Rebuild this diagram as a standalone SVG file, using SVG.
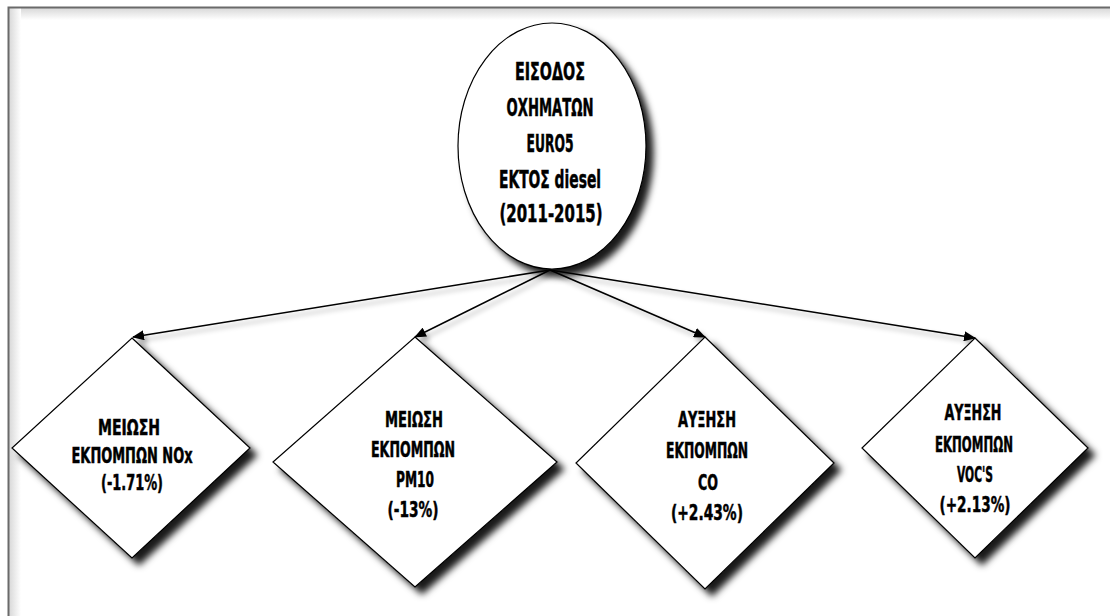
<svg xmlns="http://www.w3.org/2000/svg" width="1110" height="616" viewBox="0 0 1110 616">
<defs>
<filter id="sh" x="-20%" y="-20%" width="150%" height="150%">
<feDropShadow dx="7" dy="7" stdDeviation="3.5" flood-color="#000" flood-opacity="0.9"/>
</filter>
<filter id="lsh" x="-10%" y="-50%" width="120%" height="200%">
<feDropShadow dx="3" dy="4" stdDeviation="2.5" flood-color="#000" flood-opacity="0.35"/>
</filter>
<linearGradient id="gt" x1="0" y1="0" x2="0" y2="1">
<stop offset="0" stop-color="#d8d8d8"/><stop offset="1" stop-color="#fff"/>
</linearGradient>
<linearGradient id="gl" x1="0" y1="0" x2="1" y2="0">
<stop offset="0" stop-color="#d8d8d8"/><stop offset="1" stop-color="#fff"/>
</linearGradient>
<marker id="arr" viewBox="0 0 12 10" refX="11" refY="5" markerWidth="12" markerHeight="10" markerUnits="userSpaceOnUse" orient="auto">
<path d="M0,0 L12,5 L0,10 Z" fill="#000"/>
</marker>
<style>
.t{font-family:"DejaVu Sans Condensed","DejaVu Sans",sans-serif;font-stretch:condensed;font-weight:bold;fill:#000;stroke:#000;stroke-width:0.5;text-anchor:middle}
.s{font-size:21px}
.b{font-size:25px}
.shape{fill:#fff;stroke:#000;stroke-width:1.2}
.con{stroke:#000;stroke-width:1.6;fill:none}
</style>
</defs>
<rect x="0" y="0" width="1110" height="616" fill="#fff"/>
<g id="frame">
<rect x="9" y="8" width="1101" height="12" fill="url(#gt)"/>
<rect x="9" y="8" width="12" height="608" fill="url(#gl)"/>
<path d="M8.5,616 L8.5,7.5 L1110,7.5" fill="none" stroke="#6a6a6a" stroke-width="2"/>
</g>
<g id="connectors" filter="url(#lsh)">
<line class="con" x1="550" y1="270" x2="133" y2="337" marker-end="url(#arr)"/>
<line class="con" x1="550" y1="270" x2="415" y2="337" marker-end="url(#arr)"/>
<line class="con" x1="550" y1="270" x2="705" y2="337" marker-end="url(#arr)"/>
<line class="con" x1="550" y1="270" x2="975" y2="338" marker-end="url(#arr)"/>
</g>
<g id="n0">
<ellipse class="shape" cx="552" cy="146" rx="94" ry="123" filter="url(#sh)"/>
<text class="t b" x="550" y="80" textLength="70" lengthAdjust="spacingAndGlyphs">ΕΙΣΟΔΟΣ</text>
<text class="t b" x="550" y="116" textLength="87" lengthAdjust="spacingAndGlyphs">ΟΧΗΜΑΤΩΝ</text>
<text class="t b" x="550" y="152" textLength="47" lengthAdjust="spacingAndGlyphs">EURO5</text>
<text class="t b" x="550" y="188" textLength="102" lengthAdjust="spacingAndGlyphs">ΕΚΤΟΣ diesel</text>
<text class="t b" x="551" y="222" textLength="103" lengthAdjust="spacingAndGlyphs">(2011-2015)</text>
</g>
<g id="n1">
<polygon class="shape" points="132,338 250,448 132,558 12,448" filter="url(#sh)"/>
<text class="t s" x="129" y="435" textLength="62" lengthAdjust="spacingAndGlyphs">ΜΕΙΩΣΗ</text>
<text class="t s" x="132" y="463" textLength="121" lengthAdjust="spacingAndGlyphs">ΕΚΠΟΜΠΩΝ NOx</text>
<text class="t s" x="132" y="490" textLength="62" lengthAdjust="spacingAndGlyphs">(-1.71%)</text>
</g>
<g id="n2">
<polygon class="shape" points="415,337 557,462 415,587 273,462" filter="url(#sh)"/>
<text class="t s" x="414" y="427" textLength="58" lengthAdjust="spacingAndGlyphs">ΜΕΙΩΣΗ</text>
<text class="t s" x="413" y="457" textLength="84" lengthAdjust="spacingAndGlyphs">ΕΚΠΟΜΠΩΝ</text>
<text class="t s" x="415" y="487" textLength="38" lengthAdjust="spacingAndGlyphs">PM10</text>
<text class="t s" x="413" y="517" textLength="51" lengthAdjust="spacingAndGlyphs">(-13%)</text>
</g>
<g id="n3">
<polygon class="shape" points="705,337 834,463 705,589 576,463" filter="url(#sh)"/>
<text class="t s" x="707" y="427" textLength="58" lengthAdjust="spacingAndGlyphs">ΑΥΞΗΣΗ</text>
<text class="t s" x="707" y="458" textLength="82" lengthAdjust="spacingAndGlyphs">ΕΚΠΟΜΠΩΝ</text>
<text class="t s" x="708" y="490" textLength="20" lengthAdjust="spacingAndGlyphs">CO</text>
<text class="t s" x="707" y="520" textLength="72" lengthAdjust="spacingAndGlyphs">(+2.43%)</text>
</g>
<g id="n4">
<polygon class="shape" points="975,338 1088,448 975,558 862,448" filter="url(#sh)"/>
<text class="t s" x="973" y="420" textLength="57" lengthAdjust="spacingAndGlyphs">ΑΥΞΗΣΗ</text>
<text class="t s" x="974" y="452" textLength="78" lengthAdjust="spacingAndGlyphs">ΕΚΠΟΜΠΩΝ</text>
<text class="t s" x="975" y="482" textLength="36" lengthAdjust="spacingAndGlyphs">VOC'S</text>
<text class="t s" x="975" y="512" textLength="71" lengthAdjust="spacingAndGlyphs">(+2.13%)</text>
</g>
</svg>
